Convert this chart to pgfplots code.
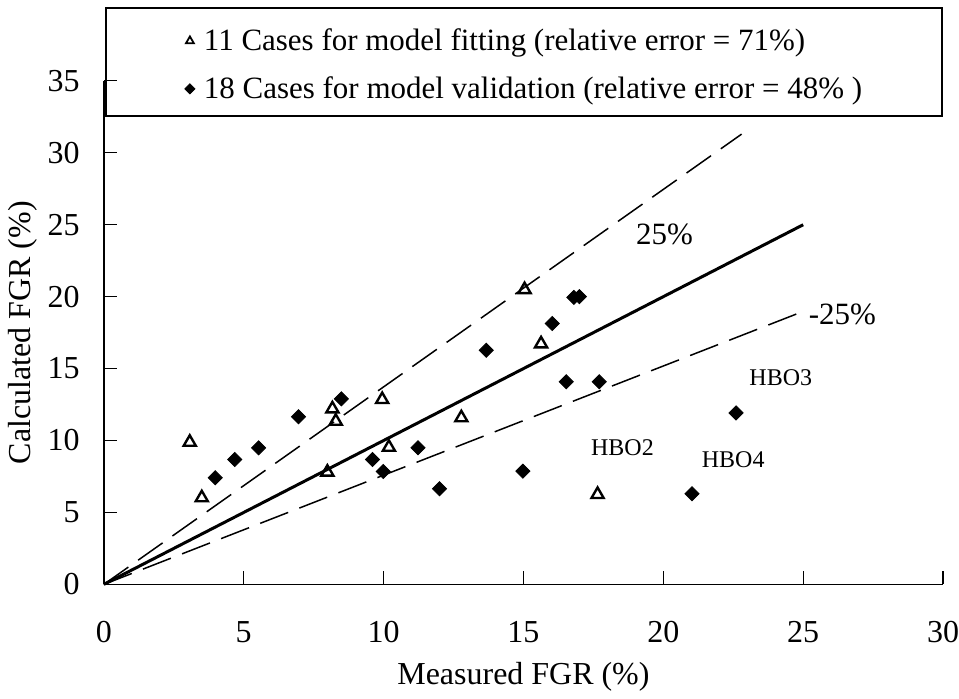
\documentclass[border=0pt]{standalone}
\usepackage{pgfplots}
\pgfplotsset{compat=1.18}
\usepackage{fontspec}
\setmainfont{Liberation Serif}
\begin{document}
\begin{tikzpicture}
\begin{axis}[
 scale only axis, width=420pt, height=252pt,
 xmin=0,xmax=30,ymin=0,ymax=35,
 axis x line*=bottom, axis y line*=left,
 axis line style={-, line width=0.75pt},
 xtick={0,5,...,30}, ytick={0,5,...,35},
 tick align=inside, major tick length=6.5pt, tick style={line width=0.6pt, black},
 /pgf/number format/assume math mode=true,
 ticklabel style={font=\fontsize{16}{19}\selectfont},
 xticklabel style={anchor=north, inner sep=0pt, yshift=-18.5pt},
 yticklabel style={anchor=east, inner sep=0pt, xshift=-12pt},
 xlabel={Measured FGR (\%)}, ylabel={Calculated FGR (\%)},
 label style={font=\fontsize{16}{19}\selectfont},
 xlabel style={at={(axis description cs:0.5,-0.1845)}, anchor=center},
 ylabel style={at={(axis description cs:-0.0964,0.5)}, anchor=center},
 clip=false,
 legend style={at={(rel axis cs:0.096,1.0317)}, anchor=west, draw=none, fill=none,
   font=\fontsize{15.5}{18}\selectfont, row sep=7.5pt, inner sep=0pt},
 legend cell align=left,
]
\addplot[black, line width=1.5pt, forget plot] coordinates {(0,0) (25,25)};
\addplot[black, line width=0.75pt, dash pattern=on 15pt off 6pt, forget plot] coordinates {(0,0) (22.8,31.3)};
\addplot[black, line width=0.75pt, dash pattern=on 15pt off 6pt, forget plot] coordinates {(0,0) (24.9,18.9)};

\addplot[only marks, mark=triangle, mark size=3.5pt, mark options={black, line width=1.2pt, fill=white},
  legend image post style={mark size=2.3pt, mark options={line width=0.9pt}}] coordinates {
(3.07,9.88) (3.5,6.02) (8.17,12.2) (8.29,11.34) (7.99,7.8) (9.95,12.85)
(10.19,9.53) (15.04,20.49) (15.63,16.72) (12.78,11.58) (17.65,6.25)
};
\addlegendentry{\hspace{2.5pt}11 Cases for model fitting (relative error = 71\%)}

\addplot[only marks, mark=square*, mark size=2.5pt, mark options={black, fill=black, rotate=45},
  legend image post style={mark size=1.8pt}] coordinates {
(8.49,12.9) (6.96,11.65) (5.53,9.49) (4.68,8.68) (3.98,7.41) (9.6,8.68)
(9.99,7.85) (11.23,9.49) (16.8,19.95) (17.0,20.0) (16.03,18.13) (13.67,16.27)
(16.53,14.08) (17.71,14.08) (14.98,7.87) (12.0,6.65) (21.03,6.3) (22.6,11.92)
};
\addlegendentry{\hspace{2.5pt}18 Cases for model validation (relative error = 48\% )}

\node[font=\fontsize{15.5}{18}\selectfont] at (axis cs:20.04,24.3) {25\%};
\node[font=\fontsize{15.5}{18}\selectfont] at (axis cs:26.4,18.8) {-25\%};
\node[font=\fontsize{12}{14}\selectfont] at (axis cs:24.2,14.4) {HBO3};
\node[font=\fontsize{12}{14}\selectfont] at (axis cs:22.5,8.7) {HBO4};
\node[font=\fontsize{12}{14}\selectfont] at (axis cs:18.54,9.5) {HBO2};

\draw[line width=0.75pt] (rel axis cs:0.0024,0.9306) rectangle (rel axis cs:0.9988,1.1448);
\path (rel axis cs:-0.1238,-0.2202) rectangle (rel axis cs:1.0179,1.1607);
\end{axis}
\end{tikzpicture}
\end{document}
